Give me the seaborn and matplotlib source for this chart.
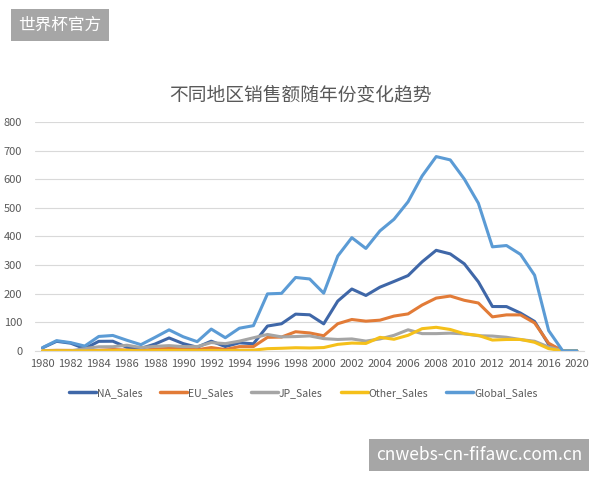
import numpy as np
import pandas as pd
import matplotlib
matplotlib.use("Agg")
import matplotlib.pyplot as plt
import seaborn as sns

# years present in the data (2018/2019 missing, so 2020 follows 2017 as a category)
years = list(range(1980, 2018)) + [2020]

na_sales = [10.6, 33.4, 26.9, 7.8, 33.3, 33.7, 12.5, 8.5, 23.9, 45.2, 25.5, 12.8, 33.9, 15.1,
            28.2, 24.8, 86.8, 94.8, 128.4, 126.1, 94.5, 174.0, 216.2, 193.6, 222.6, 242.6,
            263.1, 311.2, 351.4, 338.9, 304.2, 241.2, 155.0, 154.8, 132.0, 102.8, 22.7, 0.0, 0.3]
eu_sales = [0.7, 2.0, 1.7, 0.8, 2.1, 4.7, 2.8, 1.4, 6.6, 8.4, 7.6, 4.0, 11.7, 4.7,
            14.9, 14.9, 47.3, 48.3, 66.9, 62.7, 52.8, 94.9, 109.7, 103.8, 107.3, 121.6,
            129.2, 160.2, 184.4, 191.6, 176.7, 167.3, 118.8, 125.8, 125.7, 97.7, 26.8, 0.0, 0.0]
jp_sales = [0.0, 0.0, 0.0, 8.1, 14.3, 14.6, 19.8, 11.6, 15.8, 18.4, 14.9, 14.8, 28.9, 25.3,
            34.0, 45.8, 57.4, 48.9, 50.0, 52.3, 42.8, 39.9, 41.8, 34.2, 41.7, 54.3,
            73.7, 60.3, 60.3, 61.9, 59.5, 53.0, 51.8, 47.6, 39.5, 33.7, 13.7, 0.1, 0.0]
other_sales = [0.1, 0.3, 0.3, 0.1, 0.7, 0.9, 1.9, 0.2, 1.0, 1.5, 1.4, 0.7, 1.7, 0.9,
               2.2, 2.6, 7.7, 9.1, 11.0, 10.1, 11.6, 22.8, 27.3, 26.0, 47.3, 40.6,
               54.4, 77.6, 82.4, 74.8, 59.9, 54.1, 37.8, 39.8, 40.0, 30.0, 7.8, 0.0, 0.0]
global_sales = [11.4, 35.8, 28.9, 16.8, 50.4, 53.9, 37.1, 21.7, 47.2, 73.5, 49.4, 32.2, 76.2, 46.0,
                79.2, 88.1, 199.2, 201.0, 256.5, 251.3, 201.6, 331.5, 395.5, 357.9, 419.3, 459.9,
                521.0, 611.1, 678.9, 667.3, 600.5, 516.0, 363.5, 368.1, 337.1, 264.4, 70.9, 0.1, 0.3]

series_names = ["NA_Sales", "EU_Sales", "JP_Sales", "Other_Sales", "Global_Sales"]
colors = ["#3F67A8", "#E27B37", "#A5A5A5", "#F5C01A", "#5B9BD5"]

frames = []
for name, vals in zip(series_names, [na_sales, eu_sales, jp_sales, other_sales, global_sales]):
    frames.append(pd.DataFrame({"idx": np.arange(len(years)), "value": vals, "series": name}))
df = pd.concat(frames, ignore_index=True)

sns.set_style("white")
plt.rcParams["font.family"] = ["Noto Sans CJK SC", "DejaVu Sans"]

fig = plt.figure(figsize=(6, 4.8), dpi=100)
ax = fig.add_axes([0.058, 0.269, 0.915, 0.477])

sns.lineplot(data=df, x="idx", y="value", hue="series", hue_order=series_names,
             palette=colors, linewidth=2.2, ax=ax, legend=False)

ax.set_xlim(-0.55, len(years) - 1 + 0.5)
ax.set_ylim(0, 800)
ax.set_yticks(range(0, 801, 100))
ax.yaxis.grid(True, color="#D9D9D9", linewidth=0.8)
ax.set_axisbelow(True)
tick_idx = [i for i, y in enumerate(years) if y % 2 == 0]
ax.set_xticks(tick_idx)
ax.set_xticklabels([str(years[i]) for i in tick_idx])
ax.tick_params(axis="both", length=0, labelsize=8, colors="#595959")
ax.tick_params(axis="y", pad=9)
ax.tick_params(axis="x", pad=6)
for side in ["left", "right", "top"]:
    ax.spines[side].set_visible(False)
ax.spines["bottom"].set_color("#D9D9D9")
ax.set_xlabel("")
ax.set_ylabel("")

fig.text(0.5, 0.802, "不同地区销售额随年份变化趋势", ha="center", va="center",
         fontsize=13.5, color="#595959")

handles = [plt.Line2D([], [], color=c, linewidth=2.5) for c in colors]
fig.legend(handles, series_names, loc="center", bbox_to_anchor=(0.505, 0.181), ncol=5,
           frameon=False, fontsize=7.5, labelcolor="#595959", handlelength=2.6,
           handletextpad=0.1, columnspacing=1.7)

# watermark boxes
fig.text(0.1, 0.948, "世界杯官方", ha="center", va="center", fontsize=12, color="white",
         bbox=dict(boxstyle="square,pad=0.45", facecolor="#A6A6A6", edgecolor="none"))
fig.text(0.798, 0.052, "cnwebs-cn-fifawc.com.cn", ha="center", va="center", fontsize=12.5,
         color="white",
         bbox=dict(boxstyle="square,pad=0.4", facecolor="#A6A6A6", edgecolor="none"))

fig.savefig("out.png", dpi=100)
